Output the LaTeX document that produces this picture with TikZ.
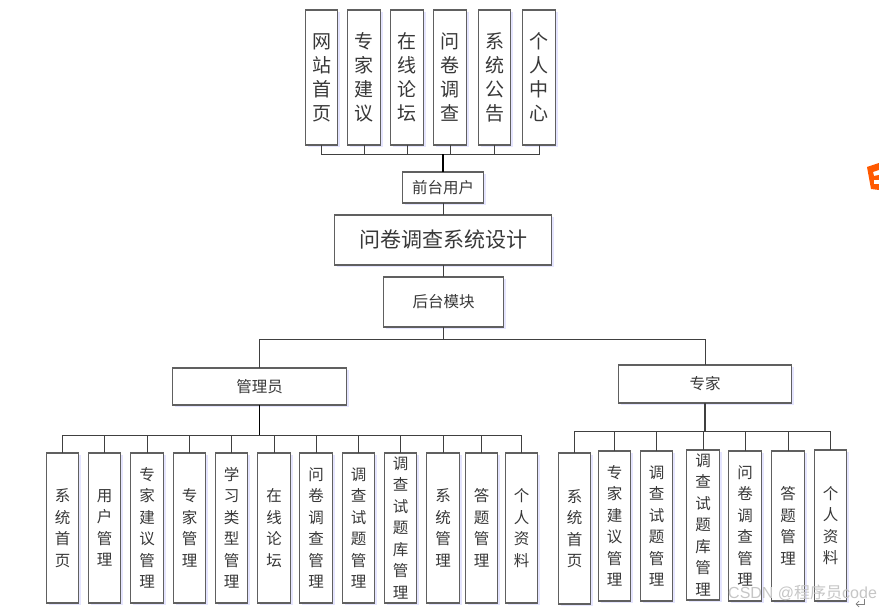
\documentclass[tikz,border=0pt]{standalone}
\usepackage{fontspec}
\setmainfont{Noto Sans CJK SC}
\setsansfont{Liberation Sans}
\usetikzlibrary{shadows}
\definecolor{edgegray}{HTML}{606060}
\definecolor{inkgray}{HTML}{383838}
\tikzset{
  x=1pt,y=-1pt,
  box/.style={draw=edgegray,line width=1.3pt,fill=white,inner sep=0pt,outer sep=0pt,align=center,text=inkgray,
    copy shadow={draw=none,fill=blue!10,shadow xshift=2pt,shadow yshift=-2pt}},
  topfont/.style={font=\fontsize{19}{24}\selectfont},
  subfont/.style={font=\fontsize{15.5}{21.5}\selectfont},
  midfont/.style={font=\fontsize{15.5}{18}\selectfont},
  titlefont/.style={font=\fontsize{21}{24}\selectfont},
  wire/.style={draw=black!75,line width=.9pt},
  heavy/.style={draw=black,line width=1.8pt},
}
\newcommand\bx[7]{%
  \pgfmathsetmacro\bxw{#4-#2}\pgfmathsetmacro\bxh{#5-#3}%
  \pgfmathsetmacro\bxcx{(#4+#2)/2+0.5}\pgfmathsetmacro\bxcy{(#5+#3)/2}%
  \node[box,#6,minimum width=\bxw pt,minimum height=\bxh pt] (#1) at (\bxcx,\bxcy) {#7};%
}
\begin{document}
\begin{tikzpicture}
\useasboundingbox (0,0) rectangle (879,609);
\fill[white] (0,0) rectangle (879,609);
% top row
\bx{t1}{305}{10}{337}{145}{topfont}{网\\站\\首\\页}
\bx{t2}{347}{10}{380}{145}{topfont}{专\\家\\建\\议}
\bx{t3}{390}{10}{423}{145}{topfont}{在\\线\\论\\坛}
\bx{t4}{433}{10}{466}{145}{topfont}{问\\卷\\调\\查}
\bx{t5}{478}{10}{510}{145}{topfont}{系\\统\\公\\告}
\bx{t6}{522}{10}{555}{145}{topfont}{个\\人\\中\\心}
% centre column
\bx{front}{402}{172}{483}{203}{midfont}{前台用户}
\bx{title}{334}{215}{551}{265}{titlefont}{问卷调查系统设计}
\bx{back}{383}{277}{503}{327}{midfont}{后台模块}
% second level
\bx{admin}{172}{368}{346}{405}{midfont}{管理员}
\bx{expert}{618}{365}{791}{403}{midfont}{专家}
% admin children
\bx{l1}{46}{453}{78}{603}{subfont}{系\\统\\首\\页}
\bx{l2}{88}{453}{120}{603}{subfont}{用\\户\\管\\理}
\bx{l3}{130}{453}{163}{603}{subfont}{专\\家\\建\\议\\管\\理}
\bx{l4}{173}{453}{205}{603}{subfont}{专\\家\\管\\理}
\bx{l5}{215}{453}{247}{603}{subfont}{学\\习\\类\\型\\管\\理}
\bx{l6}{257}{453}{290}{603}{subfont}{在\\线\\论\\坛}
\bx{l7}{299}{453}{332}{603}{subfont}{问\\卷\\调\\查\\管\\理}
\bx{l8}{342}{453}{374}{603}{subfont}{调\\查\\试\\题\\管\\理}
\bx{l9}{384}{453}{416}{603}{subfont}{调\\查\\试\\题\\库\\管\\理}
\bx{l10}{426}{453}{459}{603}{subfont}{系\\统\\管\\理}
\bx{l11}{465}{453}{497}{603}{subfont}{答\\题\\管\\理}
\bx{l12}{505}{453}{537}{603}{subfont}{个\\人\\资\\料}
% expert children
\bx{r1}{558}{453}{590}{604}{subfont}{系\\统\\首\\页}
\bx{r2}{598}{451}{630}{601}{subfont}{专\\家\\建\\议\\管\\理}
\bx{r3}{640}{451}{672}{601}{subfont}{调\\查\\试\\题\\管\\理}
\bx{r4}{686}{450}{719}{600}{subfont}{调\\查\\试\\题\\库\\管\\理}
\bx{r5}{728}{451}{761}{601}{subfont}{问\\卷\\调\\查\\管\\理}
\bx{r6}{771}{451}{804}{601}{subfont}{答\\题\\管\\理}
\bx{r7}{814}{450}{846}{601}{subfont}{个\\人\\资\\料}
% junction coordinates
\path (front.north) ++(0,-18) coordinate (tj);
\path (back.south) ++(0,12) coordinate (mj);
\path (admin.south) ++(0,30) coordinate (lj);
\path (expert.south) ++(0,28) coordinate (rj);
% connectors
\begin{scope}[on background layer/.style={}]
\foreach \n in {t1,t2,t3,t4,t5,t6} \draw[wire] (\n.south) |- (tj);
\draw[heavy] (front.north) -- (tj);
\draw[wire] (front.south) -- (title.north -| front.south);
\draw[wire] (title.south -| back.north) -- (back.north);
\draw[wire] (back.south) -- (mj);
\draw[wire] (mj) -| (admin.north);
\draw[wire] (mj) -| (expert.north);
\foreach \n in {l1,l2,l3,l4,l5,l6,l7,l8,l9,l10,l11,l12} \draw[wire] (\n.north) |- (lj);
\draw[heavy] (admin.south) -- (lj);
\foreach \n in {r1,r2,r3,r4,r5,r6,r7} \draw[wire] (\n.north) |- (rj);
\draw[wire,line width=1.3pt] (expert.south) -- (rj);
\end{scope}
% page debris: orange badge, watermark, return mark
\fill[orange!70!red] (867,167) -- (879,163) -- (879,170) -- (873,172) -- (874,176) -- (879,175) -- (879,190) -- (871,189) -- cycle;
\fill[white] (874,180) rectangle (879,184);
\node[font=\sffamily\fontsize{16}{18}\selectfont,text=gray!45,inner sep=0pt,anchor=west] (mark) at (728,593) {CSDN @{\rmfamily 程序员}code};
\draw[gray,line width=.7pt] (864,599) -- (864,604) -- (856,604);
\draw[gray,line width=.7pt] (859,601) -- (856,604) -- (859,607);
\end{tikzpicture}
\end{document}
